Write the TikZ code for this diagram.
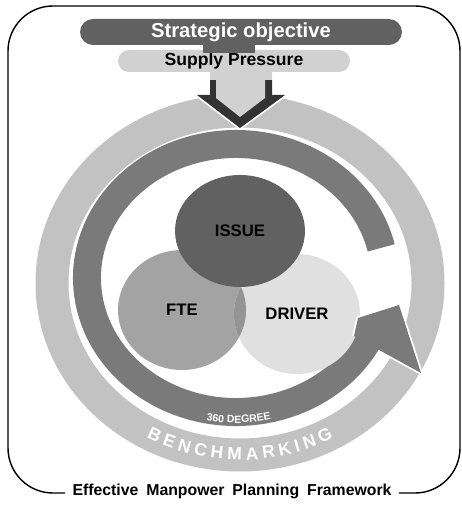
\documentclass[tikz,border=0pt]{standalone}
\usepackage{fontspec}
\setmainfont{Liberation Sans}
\usetikzlibrary{shapes.geometric,decorations.text}

% grey tones of the scan
\colorlet{objgray}{black!62}
\colorlet{pressgray}{black!18}
\colorlet{chevgray}{black!80}
\colorlet{ringgray}{black!52}
\colorlet{benchgray}{black!24}
\colorlet{issuegray}{black!62}
\colorlet{ftegray}{black!36}
\colorlet{drivergray}{black!12}
\colorlet{lensgray}{black!42}

\newcommand{\wordgap}{\hspace{0.5em}}

\tikzset{
    labelfont/.style={font=\fontsize{9.5}{11}\selectfont\bfseries},
    objbar/.style={fill=objgray, text=white, rounded corners=0.26cm, inner sep=0pt,
        minimum width=6.44cm, minimum height=0.52cm, font=\fontsize{11.5}{13}\selectfont\bfseries},
    pressbar/.style={fill=pressgray, rounded corners=0.22cm, inner sep=0pt,
        minimum width=4.64cm, minimum height=0.44cm, font=\fontsize{10}{12}\selectfont\bfseries},
    setcircle/.style={ellipse, inner sep=0pt, labelfont},
}

\begin{document}
\begin{tikzpicture}[x=0.02cm, y=0.02cm]
    % one unit = one pixel of the scan
    \useasboundingbox (0,0) rectangle (462,-506);

    % Outer frame with the caption sitting on its bottom line
    \draw[line width=0.8pt, rounded corners=0.9cm] (232,-493) -| (8,-6) -| (460,-493) -- cycle;
    \node[fill=white, inner xsep=4pt, inner ysep=1pt, font=\fontsize{9}{11}\selectfont\bfseries]
          (caption) at (232,-491) {Effective\wordgap Manpower\wordgap Planning\wordgap Framework};

    % Benchmarking ring
    \draw[benchgray, line width=0.66cm] (240,-283) ellipse [x radius=188, y radius=172];
    \path[decorate, decoration={text along path, text color=white, text align=fit to path,
          text={|\fontsize{10}{12}\selectfont\bfseries|BENCHMARKING}}]
        (240,-283) ++(241:193 and 177) arc[start angle=241, end angle=299, x radius=193, y radius=177];

    % 360 degree ring
    \draw[ringgray, line width=0.56cm] (236,-278) ++(13:149 and 134)
        arc[start angle=13, end angle=332, x radius=149, y radius=134];
    \path[decorate, decoration={text along path, text color=white, text align=center,
          text={|\fontsize{6}{7}\selectfont\bfseries|360 DEGREE}}]
        (236,-278) ++(250:160 and 145) arc[start angle=250, end angle=292, x radius=160, y radius=145];

    % Down arrow from the supply pressure
    \draw[white, line width=0.07cm, line join=round] (210,-80) -- (210,-95) -- (197,-95) -- (240,-128)
        -- (285,-95) -- (272,-95) -- (272,-80);
    \fill[chevgray] (210,-80) -- (210,-95) -- (197,-95) -- (240,-128) -- (285,-95) -- (272,-95)
        -- (272,-80) -- cycle;
    \fill[pressgray] (210,-65) -- (210,-80) -- (216,-80) -- (216,-98) -- (240,-117) -- (265,-98)
        -- (265,-80) -- (272,-80) -- (272,-65) -- cycle;

    % Strategic objective and supply pressure
    \node[pressbar] (supply) at (234,-61) {Supply Pressure};
    \fill[objgray] (203,-42) rectangle (255,-53);
    \node[objbar] (objective) at (241,-32) {Strategic objective};

    % The three sets
    \node[setcircle, fill=ftegray, minimum width=2.56cm, minimum height=2.4cm] (fte) at (182,-310) {FTE};
    \node[setcircle, fill=drivergray, minimum width=2.52cm, minimum height=2.4cm] (driver) at (297,-314) {DRIVER};
    \begin{scope}
        \clip (182,-310) ellipse [x radius=64, y radius=60];
        \fill[lensgray] (297,-314) ellipse [x radius=63, y radius=60];
    \end{scope}
    \node[setcircle, fill=issuegray, minimum width=2.6cm, minimum height=2.24cm] (issue) at (240,-231) {ISSUE};

    % Head of the 360 degree arrow
    \draw[white, line width=0.07cm, line join=round] (354,-336) -- (358,-318) -- (399,-305) -- (421,-373) -- (379,-350);
    \fill[ringgray] (354,-336) -- (358,-318) -- (399,-305) -- (421,-373) -- (379,-350) -- cycle;

\end{tikzpicture}
\end{document}
